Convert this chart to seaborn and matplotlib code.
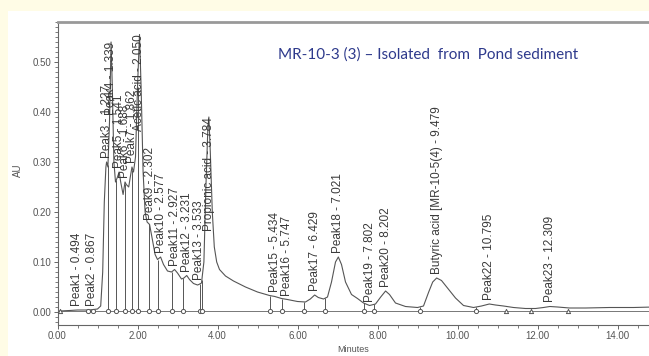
import numpy as np
import matplotlib
matplotlib.use("Agg")
import matplotlib.pyplot as plt
import seaborn as sns
from matplotlib.patches import Rectangle
from matplotlib.ticker import MultipleLocator, FormatStrFormatter

# ---------------- data ----------------
trace_t = [0.00, 0.06, 0.30, 0.50, 0.80, 1.00, 1.08, 1.13, 1.17, 1.21, 1.227, 1.26,
           1.30, 1.339, 1.37, 1.41, 1.45, 1.50, 1.541, 1.58, 1.64, 1.688, 1.72, 1.78,
           1.82, 1.862, 1.90, 1.95, 2.00, 2.05, 2.09, 2.14, 2.19, 2.24, 2.302, 2.36,
           2.44, 2.50, 2.577, 2.65, 2.75, 2.85, 2.927, 3.00, 3.10, 3.16, 3.231, 3.30,
           3.40, 3.50, 3.533, 3.60, 3.66, 3.71, 3.76, 3.784, 3.82, 3.87, 3.92, 3.98,
           4.05, 4.20, 4.40, 4.70, 5.00, 5.30, 5.434, 5.60, 5.747, 6.00, 6.20, 6.32,
           6.429, 6.52, 6.65, 6.75, 6.85, 6.95, 7.021, 7.10, 7.20, 7.35, 7.50, 7.65,
           7.802, 7.95, 8.08, 8.202, 8.30, 8.45, 8.70, 9.00, 9.15, 9.28, 9.38, 9.479,
           9.60, 9.75, 9.95, 10.15, 10.40, 10.60, 10.795, 10.95, 11.15, 11.40, 11.70,
           11.95, 12.15, 12.309, 12.50, 12.80, 13.20, 13.80, 14.40, 14.90]
trace_au = [0.001, 0.002, 0.003, 0.004, 0.004, 0.006, 0.012, 0.08, 0.22, 0.29, 0.30, 0.29,
            0.38, 0.54, 0.45, 0.30, 0.26, 0.27, 0.28, 0.26, 0.235, 0.26, 0.255, 0.25,
            0.27, 0.29, 0.28, 0.31, 0.45, 0.555, 0.45, 0.28, 0.20, 0.18, 0.175, 0.15,
            0.115, 0.105, 0.11, 0.095, 0.082, 0.08, 0.085, 0.078, 0.066, 0.068, 0.073, 0.065,
            0.057, 0.054, 0.055, 0.058, 0.10, 0.25, 0.37, 0.39, 0.32, 0.20, 0.13, 0.10,
            0.085, 0.072, 0.062, 0.05, 0.04, 0.033, 0.031, 0.027, 0.025, 0.021, 0.02, 0.026,
            0.034, 0.029, 0.026, 0.03, 0.06, 0.10, 0.11, 0.095, 0.06, 0.035, 0.027, 0.018,
            0.013, 0.016, 0.03, 0.042, 0.035, 0.018, 0.011, 0.009, 0.012, 0.04, 0.06, 0.068,
            0.063, 0.048, 0.028, 0.013, 0.009, 0.012, 0.016, 0.014, 0.012, 0.009, 0.007,
            0.007, 0.009, 0.011, 0.010, 0.008, 0.008, 0.009, 0.009, 0.010]

baseline_au = 0.003

peak_names = ["Peak1", "Peak2", "Peak3", "Peak4", "Peak5", "Peak6", "Peak7",
              "Acetic acid", "Peak9", "Peak10", "Peak11", "Peak12", "Peak13",
              "Propionic acid", "Peak15", "Peak16", "Peak17", "Peak18", "Peak19",
              "Peak20", "Butyric acid [MR-10-5(4)", "Peak22", "Peak23"]
peak_rt = [0.494, 0.867, 1.227, 1.339, 1.541, 1.688, 1.862, 2.050, 2.302, 2.577,
           2.927, 3.231, 3.533, 3.784, 5.434, 5.747, 6.429, 7.021, 7.802, 8.202,
           9.479, 10.795, 12.309]
tall_peaks = ["Peak4", "Acetic acid", "Propionic acid"]

drop_t = [1.25, 1.47, 1.68, 1.85, 2.00, 2.28, 2.50, 2.86, 3.14, 3.56, 3.61,
          5.30, 5.60, 6.16, 6.68, 7.67, 7.92, 9.06, 10.47]
circle_only_t = [0.77, 0.89]
triangle_t = [0.06, 11.20, 11.83, 12.76]

x_ticks = [0, 2, 4, 6, 8, 10, 12, 14]
y_ticks = [0.0, 0.1, 0.2, 0.3, 0.4, 0.5]
title_text = "MR-10-3 (3) \u2013 Isolated  from  Pond sediment"

# ---------------- drawing ----------------
sns.set_style("white")
plt.rcParams['font.family'] = ['Liberation Sans', 'DejaVu Sans']

W, H = 649, 356
fig = plt.figure(figsize=(W / 100, H / 100), dpi=100, facecolor='#FFFCE6')
fig.patches.append(Rectangle((8 / W, 0), 1, 1 - 11 / H, transform=fig.transFigure,
                             facecolor='white', edgecolor='none', zorder=-5))

ax = fig.add_axes([57.5 / W, 1 - 325 / H, 1 - 57.5 / W, (325 - 22) / H])
ax.set_zorder(2)
ax.set_facecolor('white')

line_col = '#555555'
sns.lineplot(x=[0, 14.9], y=[baseline_au, baseline_au], ax=ax, color='#777777',
             lw=0.7, estimator=None)
sns.lineplot(x=trace_t, y=trace_au, ax=ax, color=line_col, lw=0.8,
             estimator=None, sort=False)

drop_top = np.interp(drop_t, trace_t, trace_au)
ax.vlines(drop_t, baseline_au, drop_top, color=line_col, lw=0.7)

sns.scatterplot(x=list(drop_t) + circle_only_t,
                y=[baseline_au] * (len(drop_t) + len(circle_only_t)),
                ax=ax, marker='o', s=9, color='white', edgecolor=line_col,
                linewidth=0.7, zorder=5)
sns.scatterplot(x=triangle_t, y=[baseline_au] * len(triangle_t), ax=ax,
                marker='^', s=9, color='white', edgecolor=line_col,
                linewidth=0.7, zorder=5)

for name, rt in zip(peak_names, peak_rt):
    apex = float(np.interp(rt, trace_t, trace_au))
    label = f"{name} - {rt:.3f}"
    if name in tall_peaks:
        ax.text(rt, apex, label, rotation=90, ha='center', va='top',
                fontsize=8.5, color='#3a3a3a')
    else:
        ax.text(rt, apex + 0.008, label, rotation=90, ha='center', va='bottom',
                fontsize=8.5, color='#3a3a3a')

ax.set_xlim(0, (W - 57.5) / 40.0)
ax.set_ylim(-0.026, 0.58)
ax.set_xticks(x_ticks)
ax.set_yticks(y_ticks)
ax.xaxis.set_major_formatter(FormatStrFormatter('%.2f'))
ax.yaxis.set_major_formatter(FormatStrFormatter('%.2f'))
ax.xaxis.set_minor_locator(MultipleLocator(0.5))
ax.yaxis.set_minor_locator(MultipleLocator(0.01))
ax.tick_params(axis='both', which='major', direction='out', length=3, width=0.7,
               color='#666666', labelsize=7, labelcolor='#555555', pad=1.5)
ax.tick_params(axis='both', which='minor', direction='out', length=2, width=0.6,
               color='#666666')
ax.tick_params(bottom=True, left=True, which='both')
ax.set_xlabel('')
ax.set_ylabel('')

ax.spines['right'].set_visible(False)
ax.spines['top'].set_color('#999999')
ax.spines['top'].set_linewidth(2)
for s in ['left', 'bottom']:
    ax.spines[s].set_color('#666666')
    ax.spines[s].set_linewidth(0.8)

fig.text(18 / W, 1 - 170 / H, "AU", rotation=90, ha='center', va='center',
         fontsize=7, color='#555555')
fig.text(353 / W, 1 - 350 / H, "Minutes", ha='center', va='center',
         fontsize=6.5, color='#555555')
fig.text(278 / W, 1 - 55 / H, title_text, ha='left', va='center',
         fontsize=11, color='#2E3A8C', family=['Lato', 'DejaVu Sans'])

fig.savefig('out.png', dpi=100, facecolor=fig.get_facecolor())
